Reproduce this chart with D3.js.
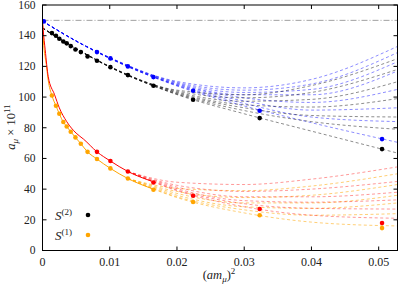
<!DOCTYPE html>
<html>
<head>
<meta charset="utf-8">
<script src="https://cdn.jsdelivr.net/npm/d3@7"></script>
<style>
body { margin: 0; background: #fff; }
text { font-family: "Liberation Serif", "DejaVu Serif", serif; fill: #222; }
</style>
</head>
<body>
<svg id="chart" width="399" height="285"></svg>
<script>
// Lattice spacings (am_mu)^2 of the data points
const xs = [0.0014, 0.0020, 0.0025, 0.0031, 0.0036, 0.0042, 0.0049, 0.0057,
            0.0067, 0.0081, 0.0101, 0.0127, 0.0165, 0.0224, 0.0323, 0.0505];
// S(2) points (black) and S(1) points (orange)
const s2Vals = [141.7, 140, 138, 136.2, 135, 133.2, 131, 129.3,
                126.5, 123.7, 119.5, 114.3, 107.4, 98.2, 86.3, 66.1];
const s1Vals = [101, 94.3, 89.1, 83.7, 80.8, 77.4, 73.7, 69.6,
                64.3, 59.6, 53.5, 46.9, 39.6, 31.6, 23, 14.6];
// blue and red points only at the coarser spacings
const blueX = [0.0002, 0.0081, 0.0101, 0.0127, 0.0165, 0.0224, 0.0323, 0.0505];
const blueVals = [149.3, 129.3, 125.2, 120, 113, 104.1, 91.1, 72.6];
const redX = [0.0081, 0.0101, 0.0127, 0.0165, 0.0224, 0.0323, 0.0505];
const redVals = [64.3, 58.3, 51.5, 44.3, 35.7, 27, 17.9];

// solid curves near the continuum
const redLineX = [0, 0.0001, 0.0004, 0.00085, 0.0018, 0.0025, 0.0036, 0.005, 0.0061, 0.0081, 0.0101, 0.0127, 0.0165];
const redLineVals = [150, 144, 130.8, 113.4, 101.5, 93, 84, 76.5, 72.6, 64.3, 58.3, 51.5, 44.8];
const orangeLineX = [0, 0.0001, 0.0006, 0.00085, 0.0014, 0.002, 0.0025, 0.0031, 0.0036, 0.0042, 0.0049, 0.0057, 0.0067, 0.0081, 0.0101, 0.0127, 0.0165];
const orangeLineVals = [148, 139.5, 120, 111, 101, 94.3, 89.1, 83.7, 80.8, 77.4, 73.7, 69.6, 64.3, 59.6, 53.5, 46.9, 40];

// dashed fit fans, values at the grid positions
const fanGridTop = [0, 0.005, 0.01, 0.02, 0.03, 0.04, 0.0528];
const blueFan = [
  [149.5, 136.6, 125.8, 110.2, 106, 111.5, 133],
  [149.5, 136.6, 125.7, 109.6, 104.5, 108.5, 129],
  [149.5, 136.5, 125.6, 109.1, 103, 105, 123],
  [149.5, 136.5, 125.5, 108.6, 101.5, 101.5, 117],
  [149.5, 136.5, 125.4, 108.2, 99.5, 96.5, 105],
  [149.5, 136.5, 125.3, 107.8, 97.5, 91.5, 93],
  [149.5, 136.5, 125.2, 107.5, 95.8, 87, 84],
  [149.5, 136.5, 125.2, 107.2, 94.2, 83.3, 70.5]
];
const blackFan = [
  [145, 131.7, 120, 104.5, 101.5, 107.5, 125],
  [145, 131.6, 119.9, 103.9, 99.5, 103, 118],
  [145, 131.6, 119.8, 103.3, 97.3, 98.5, 110],
  [145, 131.5, 119.7, 102.8, 95, 93.5, 99],
  [145, 131.5, 119.6, 102.3, 93, 88, 87],
  [145, 131.5, 119.6, 101.9, 91.2, 84, 79],
  [145, 131.5, 119.6, 101.6, 89.1, 77.8, 63.5]
];
const fanGridLow = [0.0127, 0.02, 0.03, 0.04, 0.0528];
const redFan = [
  [51.5, 44.5, 43, 46.5, 54.5],
  [51.5, 42.5, 38.5, 40, 45],
  [51.5, 41.3, 35, 35, 38],
  [51.5, 40.3, 32.5, 31.5, 33],
  [51.5, 39.5, 30.5, 27.5, 27],
  [51.5, 39, 28.5, 23, 21]
];
const orangeFan = [
  [46.9, 40.5, 39, 42, 50],
  [46.9, 38.5, 34.5, 36, 43],
  [46.9, 37.2, 31, 31, 36],
  [46.9, 36, 28.5, 27.5, 31],
  [46.9, 35, 26.5, 23, 24],
  [46.9, 34.5, 24.5, 18.5, 16]
];

const refLevel = 150;
const xTicks = [0, 0.01, 0.02, 0.03, 0.04, 0.05];
const xTickLabels = ["0", "0.01", "0.02", "0.03", "0.04", "0.05"];
const yTicks = [0, 20, 40, 60, 80, 100, 120, 140, 160];

const width = 399, height = 285;
const margin = { top: 5, right: 1.5, bottom: 34.5, left: 42.5 };
const w = width - margin.left - margin.right;
const h = height - margin.top - margin.bottom;

const svg = d3.select("#chart");

const x = d3.scaleLinear().domain([0, 0.0528]).range([0, w]);
const y = d3.scaleLinear().domain([0, 160]).range([h, 0]);

const g = svg.append("g").attr("transform", `translate(${margin.left},${margin.top})`);

g.append("clipPath").attr("id", "clip")
  .append("rect").attr("width", w).attr("height", h);

const plot = g.append("g").attr("clip-path", "url(#clip)");

// reference line
plot.append("line")
  .attr("x1", 0).attr("x2", w)
  .attr("y1", y(refLevel)).attr("y2", y(refLevel))
  .attr("stroke", "#a0a0a0")
  .attr("stroke-width", 1)
  .attr("stroke-dasharray", "6,2,1,2");

function drawFan(grid, fan, color, op) {
  const line = d3.line()
    .x((d, i) => x(grid[i]))
    .y(d => y(d))
    .curve(d3.curveMonotoneX);
  plot.selectAll(null)
    .data(fan)
    .enter().append("path")
    .attr("d", line)
    .attr("fill", "none")
    .attr("stroke", color)
    .attr("stroke-opacity", op)
    .attr("stroke-width", 0.9)
    .attr("stroke-dasharray", "3,2.5");
}

drawFan(fanGridTop, blueFan, "#0000ff", 0.5);
drawFan(fanGridTop, blackFan, "#000000", 0.5);
drawFan(fanGridLow, orangeFan, "#ffa500", 0.6);
drawFan(fanGridLow, redFan, "#ff0000", 0.45);

function drawSolid(xv, yv, color) {
  const line = d3.line()
    .x((d, i) => x(xv[i]))
    .y(d => y(d))
    .curve(d3.curveMonotoneX);
  plot.append("path")
    .datum(yv)
    .attr("d", line)
    .attr("fill", "none")
    .attr("stroke", color)
    .attr("stroke-width", 1);
}
drawSolid(orangeLineX, orangeLineVals, "#ffa500");
drawSolid(redLineX, redLineVals, "#ff0000");

function drawPoints(xv, yv, color) {
  plot.selectAll(null)
    .data(yv)
    .enter().append("circle")
    .attr("cx", (d, i) => x(xv[i]))
    .attr("cy", d => y(d))
    .attr("r", 2.3)
    .attr("fill", color);
}
drawPoints(blueX, blueVals, "#0000ff");
drawPoints(xs, s2Vals, "#000000");
drawPoints(xs, s1Vals, "#ffa500");
drawPoints(redX, redVals, "#ff0000");

// frame and inward ticks
g.append("rect")
  .attr("width", w).attr("height", h)
  .attr("fill", "none").attr("stroke", "#000").attr("stroke-width", 1);

const tl = 4;
xTicks.forEach((t, i) => {
  g.append("line").attr("x1", x(t)).attr("x2", x(t)).attr("y1", h).attr("y2", h - tl).attr("stroke", "#000");
  g.append("line").attr("x1", x(t)).attr("x2", x(t)).attr("y1", 0).attr("y2", tl).attr("stroke", "#000");
  g.append("text").attr("x", x(t)).attr("y", h + 15)
    .attr("text-anchor", "middle").style("font-size", "12px").text(xTickLabels[i]);
});
yTicks.forEach(t => {
  g.append("line").attr("x1", 0).attr("x2", tl).attr("y1", y(t)).attr("y2", y(t)).attr("stroke", "#000");
  g.append("line").attr("x1", w).attr("x2", w - tl).attr("y1", y(t)).attr("y2", y(t)).attr("stroke", "#000");
  g.append("text").attr("x", -7).attr("y", y(t)).attr("dy", "0.33em")
    .attr("text-anchor", "end").style("font-size", "11.5px").text(t);
});

// axis titles
const xt = svg.append("text").attr("x", 219).attr("y", 279)
  .attr("text-anchor", "middle").style("font-size", "12.5px");
xt.append("tspan").text("(");
xt.append("tspan").style("font-style", "italic").text("am");
xt.append("tspan").attr("dy", 3).style("font-size", "9px").style("font-style", "italic").text("μ");
xt.append("tspan").attr("dy", -3).text(")");
xt.append("tspan").attr("dy", -5).style("font-size", "9px").text("2");

const yt = svg.append("text")
  .attr("transform", "translate(15,127) rotate(-90)")
  .attr("text-anchor", "middle").style("font-size", "12.5px");
yt.append("tspan").style("font-style", "italic").text("a");
yt.append("tspan").attr("dy", 3).style("font-size", "9px").style("font-style", "italic").text("μ");
yt.append("tspan").attr("dy", -3).text(" × 10");
yt.append("tspan").attr("dy", -5).style("font-size", "9px").text("11");

// legend
const legendItems = [
  { label: "(2)", color: "#000000", yPos: 215 },
  { label: "(1)", color: "#ffa500", yPos: 235 }
];
legendItems.forEach(it => {
  const t = svg.append("text").attr("x", 55).attr("y", it.yPos + 5).style("font-size", "13px");
  t.append("tspan").style("font-style", "italic").text("S");
  t.append("tspan").attr("dy", -5).style("font-size", "9px").text(it.label);
  svg.append("circle").attr("cx", 88).attr("cy", it.yPos).attr("r", 2.3).attr("fill", it.color);
});
</script>
</body>
</html>
